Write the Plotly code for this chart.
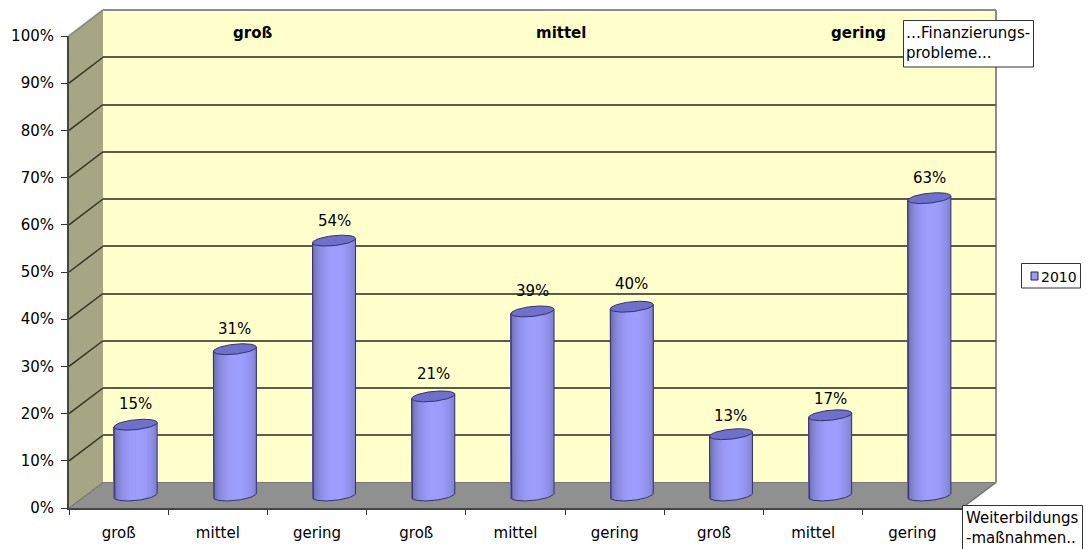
import math
import plotly.graph_objects as go

# ---- data ----
categories = ["groß", "mittel", "gering", "groß", "mittel", "gering", "groß", "mittel", "gering"]
values_2010 = [15, 31, 54, 21, 39, 40, 13, 17, 63]
group_labels = ["groß", "mittel", "gering"]
series_name = "2010"
label_shift = [21, 20, 20, 22, 20, 23, 18, 16, 20]

W, H = 1086, 549
# plane geometry in pixels
FX0, FX1, FY0, FY1 = 69, 962, 508, 36      # front plane
DX, DY = 34, 25                            # depth offset
GRID = "#5c5c48"
FONT = "DejaVu Sans, Verdana, sans-serif"
TXT = "#000000"


def px(x):
    return x / W


def py(y):
    return 1 - y / H


def dom(x0, x1):
    return [px(x0), px(x1)]


PX_PER_CAT = (FX1 - FX0) / len(categories)
PX_PER_VAL = (FY0 - FY1) / 100
A, B, K = 21.5, 5.0, 0.10   # cylinder radius, ellipse height, tilt (px)


def shade(u):
    t = math.cos(math.pi / 2 * min(1, abs(u - 0.12) / 1.12)) ** 0.4
    f = 0.5 + 0.5 * t
    return f"rgb({int(158*f)},{int(158*f)},{int(255*f)})"


# gradient strips of each cylinder
bx, by, bbase, bw, bc = [], [], [], [], []
n_strips = 43
for i, v in enumerate(values_2010):
    for s in range(n_strips):
        u = (s + 0.5) / n_strips * 2 - 1
        off_low = (B * math.sqrt(1 - u * u) - K * A * u) / PX_PER_VAL
        off_top = (K * A * u) / PX_PER_VAL
        base = -off_low
        top = v + off_top
        bx.append(i + 0.5 + u * A / PX_PER_CAT)
        bbase.append(base)
        by.append(top - base)
        bw.append(1.25 / PX_PER_CAT)
        bc.append(shade(u))

# outlines and top ellipses
ox, oy, tx, ty = [], [], [], []
N = 48
for i, v in enumerate(values_2010):
    c = i + 0.5
    ox.append(c - A / PX_PER_CAT)
    oy.append(v + (-K * A) / PX_PER_VAL)
    for j in range(N + 1):
        t = math.pi * j / N
        ox.append(c + (-math.cos(t)) * A / PX_PER_CAT)
        oy.append((-B * math.sin(t) + K * A * (-math.cos(t))) / PX_PER_VAL)
    ox.append(c + A / PX_PER_CAT)
    oy.append(v + K * A / PX_PER_VAL)
    ox.append(None)
    oy.append(None)
    for j in range(2 * N + 1):
        t = 2 * math.pi * j / (2 * N)
        tx.append(c + math.cos(t) * A / PX_PER_CAT)
        ty.append(v + (B * math.sin(t) + K * A * math.cos(t)) / PX_PER_VAL)
    tx.append(None)
    ty.append(None)

fig = go.Figure()
fig.add_trace(go.Scatter(x=[None], y=[None], xaxis="x", yaxis="y", mode="lines", showlegend=False, hoverinfo="skip"))
fig.add_trace(go.Bar(x=bx, y=by, base=bbase, width=bw, name=series_name,
                     marker=dict(color=bc, line=dict(width=0)), cliponaxis=False,
                     xaxis="x2", yaxis="y2", hoverinfo="skip", showlegend=False))
OUT = "#33336a"
fig.add_trace(go.Scatter(x=ox, y=oy, mode="lines", line=dict(color=OUT, width=1),
                         cliponaxis=False, xaxis="x2", yaxis="y2", hoverinfo="skip", showlegend=False))
fig.add_trace(go.Scatter(x=tx, y=ty, mode="lines", fill="toself", fillcolor="#6f6fcc",
                         line=dict(color=OUT, width=1), cliponaxis=False,
                         xaxis="x2", yaxis="y2", hoverinfo="skip", showlegend=False))
fig.add_trace(go.Scatter(x=[None], y=[None], xaxis="x3", yaxis="y3", mode="lines", showlegend=False, hoverinfo="skip"))

shapes = []


def poly(pts, fill, line=None, width=0):
    path = "M " + " L ".join(f"{px(x)} {py(y)}" for x, y in pts) + " Z"
    shapes.append(dict(type="path", path=path, xref="paper", yref="paper", fillcolor=fill,
                       line=dict(color=line or fill, width=width), layer="below"))


def seg(x0, y0, x1, y1, color, width, layer="below"):
    shapes.append(dict(type="line", xref="paper", yref="paper", x0=px(x0), y0=py(y0), x1=px(x1), y1=py(y1),
                       line=dict(color=color, width=width), layer=layer))


BX0, BX1, BY0, BY1 = FX0 + DX, FX1 + DX, FY0 - DY - 0.5, FY1 - 26
poly([(BX0, BY1), (BX1, BY1), (BX1, BY0), (BX0, BY0)], "#ffffcc")
poly([(FX0, FY1), (BX0, BY1), (BX0, BY0), (FX0, FY0)], "#a6a685")
poly([(FX0, FY0), (BX0, BY0), (BX1, BY0), (FX1, FY0)], "#909090")
EDGE = "#8c8c8c"
seg(FX0, FY1, BX0, BY1, EDGE, 2)
seg(BX0, BY1, BX1, BY1, EDGE, 2)
seg(BX1, BY1, BX1, BY0, EDGE, 2)
seg(BX1, BY0, FX1, FY0, "#707070", 1.5)
seg(BX0, BY0, BX1, BY0, "#777777", 1)
for k in range(1, 10):
    fy = FY0 - k * (FY0 - FY1) / 10
    by_ = BY0 - k * (BY0 - BY1) / 10
    seg(FX0, fy, BX0, by_, "#333326", 1.5)
seg(FX0, FY0, BX0, BY0, "#666666", 1)


def box(x0, y0, x1, y1):
    shapes.append(dict(type="rect", xref="paper", yref="paper", x0=px(x0), x1=px(x1), y0=py(y0), y1=py(y1),
                       fillcolor="white", line=dict(color="#333333", width=1), layer="above"))


box(903.5, 20.5, 1033.5, 67)
box(962.5, 505.5, 1082.5, 560)
box(1021.5, 263.5, 1080.5, 288)
shapes.append(dict(type="rect", xref="paper", yref="paper", x0=px(1031), x1=px(1038), y0=py(272), y1=py(280),
                   fillcolor="#9999ff", line=dict(color="#222244", width=1), layer="above"))

annos = []


def label(x, y, text, bold=False, anchor="center", size=15):
    annos.append(dict(xref="paper", yref="paper", x=px(x), y=py(y), text=f"<b>{text}</b>" if bold else text,
                      showarrow=False, xanchor=anchor, yanchor="middle", align="left",
                      font=dict(family=FONT, size=size, color=TXT)))


for (xp, name) in zip([252, 561, 858], group_labels):
    label(xp, 33, name, bold=True)
label(904, 43, "…Finanzierungs-<br>probleme...", anchor="left")
label(964, 527.5, "Weiterbildungs<br>-maßnahmen..", anchor="left")
label(1039, 277, series_name, anchor="left", size=14)
for i, v in enumerate(values_2010):
    annos.append(dict(xref="x2", yref="y2", x=i + 0.5, y=v, text=f"{v}%", showarrow=False,
                      yshift=label_shift[i], xanchor="center", yanchor="middle",
                      font=dict(family=FONT, size=15, color=TXT)))

hidden = dict(visible=False)
x_ticks = [i + 0.5 for i in range(len(categories))]
y_ticks = list(range(0, 101, 10))
y_text = [f"{v}%" for v in y_ticks]
Y2_LOW = -4
fig.update_layout(
    width=W, height=H, margin=dict(l=0, r=0, t=0, b=0, pad=0, autoexpand=False), autosize=False,
    paper_bgcolor="white", plot_bgcolor="rgba(0,0,0,0)", showlegend=False, barmode="overlay",
    font=dict(family=FONT, size=15, color=TXT),
    xaxis=dict(domain=dom(BX0, BX1), range=[0, 9], anchor="y", **hidden),
    yaxis=dict(domain=[py(BY0), py(BY1)], range=[0, 100], anchor="x", tickvals=y_ticks[1:-1], showgrid=True,
               gridcolor=GRID, gridwidth=2, showticklabels=False, ticks="", showline=False, zeroline=False),
    xaxis2=dict(domain=dom(FX0 + DX / 2, FX1 + DX / 2), range=[0, 9], anchor="y2", **hidden),
    yaxis2=dict(domain=[py(FY0 - DY / 2 - Y2_LOW * PX_PER_VAL), py(FY1 - DY / 2)], range=[Y2_LOW, 100], anchor="x2", **hidden),
    xaxis3=dict(domain=dom(FX0, FX1), range=[0, 9], anchor="y3", tickvals=x_ticks, ticktext=categories,
                ticks="", showgrid=False, zeroline=False, showline=True, linecolor="#444444", linewidth=2,
                ticklabelstandoff=10, tickfont=dict(family=FONT, size=15, color=TXT),
                minor=dict(tickvals=list(range(10)), ticks="outside", ticklen=5, tickcolor="#333333", tickwidth=1)),
    yaxis3=dict(domain=[py(FY0), py(FY1)], range=[0, 100], anchor="x3", tickvals=y_ticks, ticktext=y_text,
                ticks="outside", ticklen=6, tickcolor="#333333", tickwidth=1, showgrid=False, zeroline=False,
                ticklabelstandoff=4,
                showline=True, linecolor="#444444", linewidth=2, tickfont=dict(family=FONT, size=15, color=TXT)),
    shapes=shapes, annotations=annos,
)

fig.write_html("out.html", post_script="document.body.style.margin='0';",
               config={"displayModeBar": False, "responsive": False})
